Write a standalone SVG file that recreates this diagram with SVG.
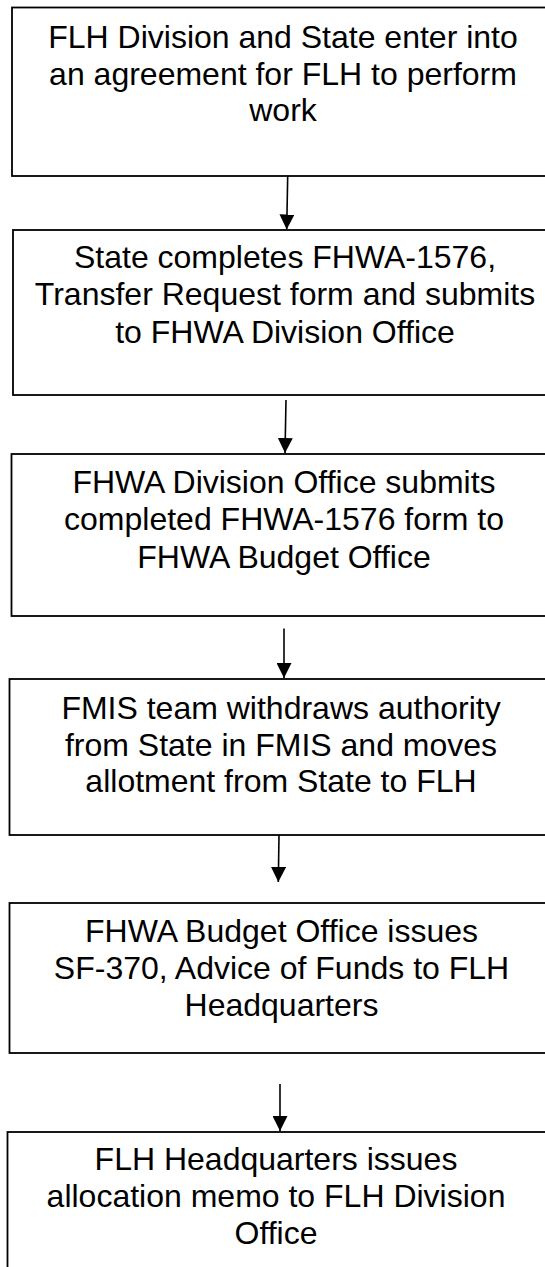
<svg xmlns="http://www.w3.org/2000/svg" width="545" height="1267" viewBox="0 0 545 1267">
<style>
.box{fill:#fff;stroke:#000;stroke-width:1.8}
.t{font-family:"Liberation Sans",Arial,sans-serif;font-size:32px;fill:#000;text-anchor:middle}
.c{stroke:#000;stroke-width:1.6;fill:none}
</style>
<defs>
<marker id="ah" markerWidth="15" markerHeight="15" refX="15" refY="7.5" orient="auto" markerUnits="userSpaceOnUse">
<path d="M0,0 L15,7.5 L0,15 Z" fill="#000"/>
</marker>
</defs>
<rect width="545" height="1267" fill="#fff"/>
<g id="n1">
<rect class="box" x="12" y="7.5" width="545" height="168.5"/>
<text class="t" x="283" y="48">FLH Division and State enter into</text>
<text class="t" x="283" y="84.5">an agreement for FLH to perform</text>
<text class="t" x="283" y="120.5">work</text>
</g>
<g id="n2">
<rect class="box" x="13" y="230" width="545" height="165"/>
<text class="t" x="285" y="268">State completes FHWA-1576,</text>
<text class="t" x="285" y="305">Transfer Request form and submits</text>
<text class="t" x="285" y="342.5">to FHWA Division Office</text>
</g>
<g id="n3">
<rect class="box" x="11.5" y="454" width="545" height="162"/>
<text class="t" x="284" y="492.5">FHWA Division Office submits</text>
<text class="t" x="284" y="530">completed FHWA-1576 form to</text>
<text class="t" x="284" y="568">FHWA Budget Office</text>
</g>
<g id="n4">
<rect class="box" x="9.5" y="679" width="545" height="156"/>
<text class="t" x="281" y="719">FMIS team withdraws authority</text>
<text class="t" x="281" y="755.5">from State in FMIS and moves</text>
<text class="t" x="281" y="792">allotment from State to FLH</text>
</g>
<g id="n5">
<rect class="box" x="9.5" y="903" width="545" height="150"/>
<text class="t" x="281.5" y="941.5">FHWA Budget Office issues</text>
<text class="t" x="281.5" y="978.5">SF-370, Advice of Funds to FLH</text>
<text class="t" x="281.5" y="1015.5">Headquarters</text>
</g>
<g id="n6">
<rect class="box" x="7.5" y="1132" width="545" height="160"/>
<text class="t" x="276" y="1170">FLH Headquarters issues</text>
<text class="t" x="276" y="1207">allocation memo to FLH Division</text>
<text class="t" x="276" y="1244">Office</text>
</g>
<g id="connectors">
<line class="c" x1="287.7" y1="176" x2="286.7" y2="229.5" marker-end="url(#ah)"/>
<line class="c" x1="286" y1="400" x2="285" y2="453" marker-end="url(#ah)"/>
<line class="c" x1="284" y1="628.5" x2="284" y2="678" marker-end="url(#ah)"/>
<line class="c" x1="279" y1="835" x2="278.3" y2="882" marker-end="url(#ah)"/>
<line class="c" x1="280" y1="1084" x2="280" y2="1131" marker-end="url(#ah)"/>
</g>
</svg>
